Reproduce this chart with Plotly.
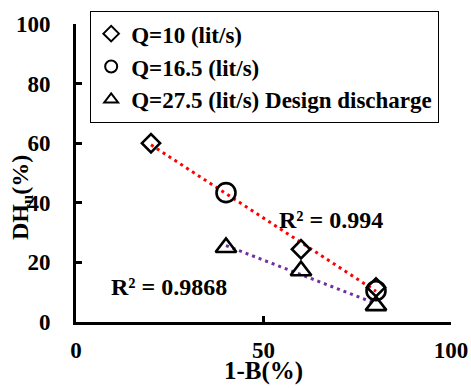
import numpy as np
import plotly.graph_objects as go

# Data
x_q10 = [20, 60, 80]
y_q10 = [60.0, 24.4, 11.6]
x_q165 = [40, 80]
y_q165 = [43.4, 10.5]
x_q275 = [40, 60, 80]
y_q275 = [25.0, 17.2, 5.5]

names = ["Q=10 (lit/s)", "Q=16.5 (lit/s)", "Q=27.5 (lit/s) Design discharge"]
r2_labels = ["R² = 0.994", "R² = 0.9868"]
x_ticks = [0, 50, 100]
y_ticks = [0, 20, 40, 60, 80, 100]

FONT = "Liberation Serif, Times New Roman, serif"

# Linear trendlines (least squares on the data)
xa = np.array(x_q10 + x_q165, dtype=float)
ya = np.array(y_q10 + y_q165, dtype=float)
pa = np.polyfit(xa, ya, 1)
xr = np.array([xa.min(), xa.max()])
xb = np.array(x_q275, dtype=float)
pb = np.polyfit(xb, np.array(y_q275, dtype=float), 1)
xp = np.array([xb.min(), xb.max()])


def b(s):
    return "<b>" + s + "</b>"


fig = go.Figure()
fig.add_trace(go.Scatter(x=xr, y=np.polyval(pa, xr), mode="lines",
                         line=dict(color="#ff0000", width=3, dash="3px,4px"),
                         showlegend=False, hoverinfo="skip"))
fig.add_trace(go.Scatter(x=xp, y=np.polyval(pb, xp), mode="lines",
                         line=dict(color="#7030a0", width=3, dash="3px,4px"),
                         showlegend=False, hoverinfo="skip"))
fig.add_trace(go.Scatter(x=x_q10, y=y_q10, mode="markers", name=b(names[0]),
                         marker=dict(symbol="diamond-open", size=14,
                                     color="black", line=dict(width=2.6, color="black"))))
fig.add_trace(go.Scatter(x=x_q165, y=y_q165, mode="markers", name=b(names[1]),
                         marker=dict(symbol="circle-open", size=19,
                                     color="black", line=dict(width=2.6, color="black"))))
fig.add_trace(go.Scatter(x=x_q275, y=y_q275, mode="markers", name=b(names[2]),
                         marker=dict(symbol="triangle-up-open", size=18,
                                     color="black", line=dict(width=2.6, color="black"))))

fig.update_layout(
    width=471, height=388,
    margin=dict(l=76, r=20, t=24, b=66, autoexpand=False),
    paper_bgcolor="white", plot_bgcolor="white",
    legend=dict(x=0.037, y=1.044, xanchor="left", yanchor="top",
                bordercolor="black", borderwidth=1.3, bgcolor="white",
                font=dict(family=FONT, size=23, color="black"),
                itemsizing="constant", itemwidth=30, tracegroupgap=0),
)
fig.update_xaxes(range=[0, 100], tickvals=x_ticks, ticktext=[b(str(v)) for v in x_ticks],
                 ticklabelstandoff=5, showline=True, linewidth=3, linecolor="black",
                 showgrid=False, zeroline=False, ticks="inside", ticklen=6, tickwidth=2.5,
                 tickcolor="black", automargin=False,
                 tickfont=dict(family=FONT, size=23, color="black"))
fig.update_yaxes(range=[0, 100], tickvals=y_ticks, ticktext=[b(str(v)) for v in y_ticks],
                 ticklabelstandoff=18, showline=True, linewidth=3, linecolor="black",
                 showgrid=False, zeroline=False, ticks="inside", ticklen=6, tickwidth=2.5,
                 tickcolor="black", automargin=False,
                 tickfont=dict(family=FONT, size=23, color="black"))

xt_y = (388 - 66 - 371) / (388 - 24 - 66)
fig.add_annotation(x=68.1, y=34.2, xref="x", yref="y", text=b(r2_labels[0]), showarrow=False,
                   font=dict(family=FONT, size=24, color="black"))
fig.add_annotation(x=24.7, y=11.7, xref="x", yref="y", text=b(r2_labels[1]), showarrow=False,
                   font=dict(family=FONT, size=24, color="black"))
fig.add_annotation(x=0.5, y=xt_y, xref="paper", yref="paper", text=b("1-B(%)"),
                   showarrow=False, xanchor="center", yanchor="middle",
                   font=dict(family=FONT, size=25, color="black"))
fig.add_annotation(x=-0.144, y=0.416, xref="paper", yref="paper", text=b("DH<sub>u</sub>(%)"),
                   textangle=-90, showarrow=False, xanchor="center", yanchor="middle",
                   font=dict(family=FONT, size=24, color="black"))

fig.write_html("out.html")
